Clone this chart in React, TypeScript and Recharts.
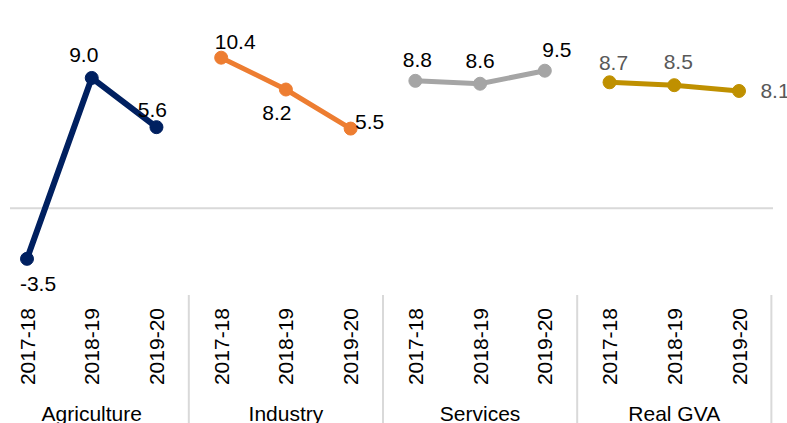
import React from 'react';
import { LineChart, Line, XAxis, YAxis, ReferenceLine, LabelList } from 'recharts';

const years = ['2017-18', '2018-19', '2019-20'];
const sectors = ['Agriculture', 'Industry', 'Services', 'Real GVA'];
const agriculture = [-3.5, 9.0, 5.6];
const industry = [10.4, 8.2, 5.5];
const services = [8.8, 8.6, 9.5];
const realGva = [8.7, 8.5, 8.1];

const FONT = '"Liberation Sans", Arial, sans-serif';
const FS = 21;

// one row per year within each sector; each series only fills its own group
const seriesValues = [agriculture, industry, services, realGva];
const keys = ['agri', 'ind', 'serv', 'gva'];
const rows = sectors.flatMap((sector, g) =>
  years.map((year, i) => {
    const row: Record<string, any> = { idx: g * 3 + i, year, sector };
    keys.forEach((k, s) => {
      row[k] = s === g ? seriesValues[s][i] : null;
    });
    return row;
  })
);

const series = [
  { key: 'agri', color: '#002060', width: 6, labelColor: '#000', offsets: [[11, 25], [-8, -23], [-4, -18]] },
  { key: 'ind', color: '#ED7D31', width: 5, labelColor: '#000', offsets: [[14, -16], [-9, 23], [19, -7]] },
  { key: 'serv', color: '#A5A5A5', width: 5, labelColor: '#000', offsets: [[2, -21], [0, -23], [12, -21]] },
  { key: 'gva', color: '#BF9000', width: 5, labelColor: '#595959', offsets: [[4, -20], [4, -24], [36, 0]] },
];

const separators = [2.5, 5.5, 8.5, 11.5];

const YearTick = (props: any) => {
  const { x, y, payload } = props;
  const row = rows[payload.value];
  if (!row) return null;
  const ty = y + 13;
  return (
    <g>
      <text
        x={x}
        y={ty}
        transform={`rotate(-90, ${x}, ${ty})`}
        textAnchor="end"
        dy="0.36em"
        fill="#000"
        fontSize={FS}
        fontFamily={FONT}
      >
        {row.year}
      </text>
      {payload.value % 3 === 1 && (
        <text x={x} y={y + 126} textAnchor="middle" fill="#000" fontSize={FS} fontFamily={FONT}>
          {row.sector}
        </text>
      )}
    </g>
  );
};

const makeLabel = (offsets: number[][], color: string, group: number) => (props: any) => {
  const { x, y, index, value } = props;
  if (value == null) return null;
  const o = offsets[index - group * 3] || [0, -20];
  return (
    <text
      x={x + o[0]}
      y={y + o[1]}
      textAnchor="middle"
      dominantBaseline="central"
      fill={color}
      fontSize={FS}
      fontFamily={FONT}
    >
      {Number(value).toFixed(1)}
    </text>
  );
};

export default function App() {
  return (
    <div style={{ position: 'absolute', left: 0, top: 0, background: '#fff' }}>
      <LineChart
        width={787}
        height={423}
        data={rows}
        margin={{ top: 49, right: 14, bottom: 0, left: 10 }}
      >
        <XAxis
          dataKey="idx"
          type="number"
          domain={[0, 11]}
          ticks={rows.map((r) => r.idx)}
          interval={0}
          padding={{ left: 17, right: 34 }}
          axisLine={false}
          tickLine={false}
          tickSize={0}
          tickMargin={0}
          height={128}
          tick={<YearTick />}
        />
        <YAxis hide domain={[-6, 11]} allowDataOverflow />
        <ReferenceLine y={0} stroke="#D9D9D9" strokeWidth={2} />
        {separators.map((s) => (
          <ReferenceLine
            key={s}
            ifOverflow="visible"
            segment={[
              { x: s, y: -6 },
              { x: s, y: -15 },
            ]}
            stroke="#D9D9D9"
            strokeWidth={2}
          />
        ))}
        {series.map((s, g) => (
          <Line
            key={s.key}
            dataKey={s.key}
            stroke={s.color}
            strokeWidth={s.width}
            dot={{ r: 6.5, fill: s.color, stroke: s.color, strokeWidth: 1 }}
            activeDot={false}
            connectNulls={false}
            isAnimationActive={false}
          >
            <LabelList dataKey={s.key} content={makeLabel(s.offsets, s.labelColor, g)} />
          </Line>
        ))}
      </LineChart>
    </div>
  );
}
